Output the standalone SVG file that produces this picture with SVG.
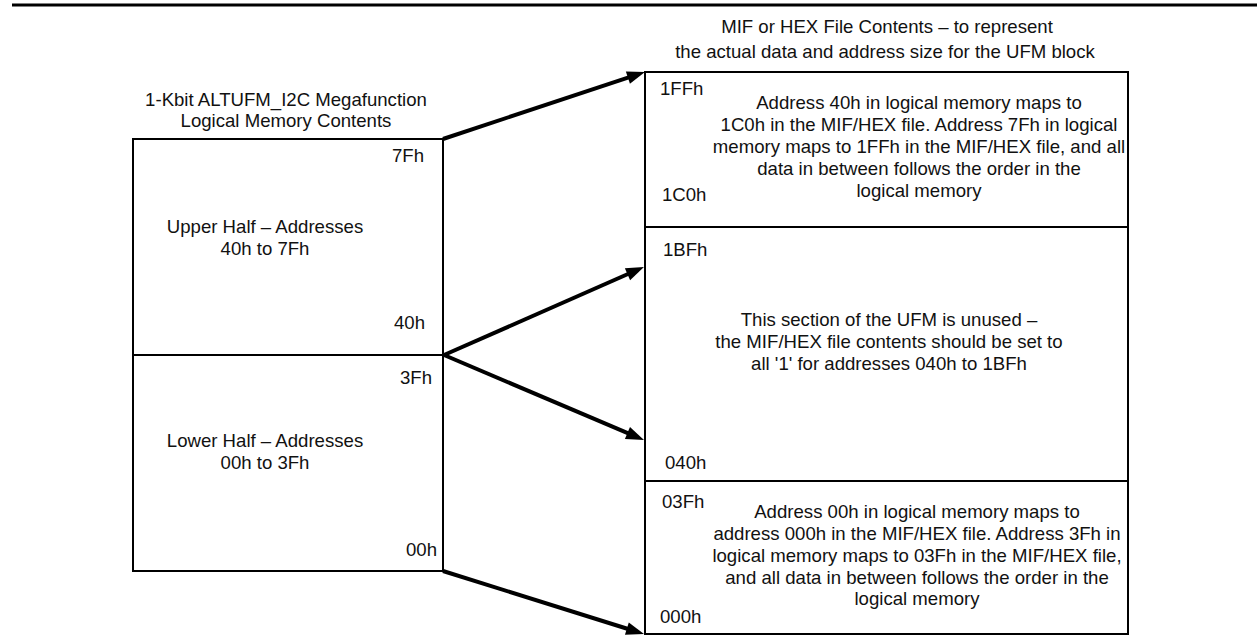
<svg xmlns="http://www.w3.org/2000/svg" width="1257" height="639" viewBox="0 0 1257 639">
<style>
text{font-family:"Liberation Sans",Arial,Helvetica,sans-serif;font-size:18.6px;fill:#111}
.c{text-anchor:middle}
.r{text-anchor:end}
.box{fill:none;stroke:#000;stroke-width:2}
.div{stroke:#000;stroke-width:2}
.arr{stroke:#000;stroke-width:4;fill:none;marker-end:url(#ah)}
</style>
<defs>
<marker id="ah" markerUnits="userSpaceOnUse" markerWidth="20" markerHeight="14" refX="8" refY="6.5" orient="auto" overflow="visible">
<path d="M0,0 L18,6.5 L0,13 z" fill="#000"/>
</marker>
</defs>
<rect x="0" y="0" width="1257" height="639" fill="#fff"/>
<line x1="12" y1="5" x2="1257" y2="5" stroke="#000" stroke-width="3"/>

<g id="logical-memory">
<text class="c" x="286" y="106">1-Kbit ALTUFM_I2C Megafunction</text>
<text class="c" x="286" y="127">Logical Memory Contents</text>
<rect class="box" x="133" y="139" width="310" height="432"/>
<line class="div" x1="133" y1="355" x2="443" y2="355"/>
</g>

<g id="upper-half">
<text class="r" x="424" y="162">7Fh</text>
<text class="c" x="265" y="233">Upper Half – Addresses</text>
<text class="c" x="265" y="255">40h to 7Fh</text>
<text class="r" x="425" y="329">40h</text>
</g>

<g id="lower-half">
<text class="r" x="432" y="384">3Fh</text>
<text class="c" x="265" y="447">Lower Half – Addresses</text>
<text class="c" x="265" y="469">00h to 3Fh</text>
<text class="r" x="437" y="556">00h</text>
</g>

<g id="mif-hex">
<text class="c" x="887" y="33">MIF or HEX File Contents – to represent</text>
<text class="c" x="885" y="58">the actual data and address size for the UFM block</text>
<rect class="box" x="645" y="72" width="483" height="562"/>
<line class="div" x1="645" y1="227" x2="1128" y2="227"/>
<line class="div" x1="645" y1="481" x2="1128" y2="481"/>
</g>

<g id="mif-upper">
<text x="660" y="95">1FFh</text>
<text x="662" y="201">1C0h</text>
<text class="c" x="919" y="109">Address 40h in logical memory maps to</text>
<text class="c" x="919" y="131">1C0h in the MIF/HEX file. Address 7Fh in logical</text>
<text class="c" x="919" y="153">memory maps to 1FFh in the MIF/HEX file, and all</text>
<text class="c" x="919" y="175">data in between follows the order in the</text>
<text class="c" x="919" y="197">logical memory</text>
</g>

<g id="mif-unused">
<text x="663" y="256">1BFh</text>
<text x="665" y="469">040h</text>
<text class="c" x="889" y="326">This section of the UFM is unused –</text>
<text class="c" x="889" y="348">the MIF/HEX file contents should be set to</text>
<text class="c" x="889" y="370">all '1' for addresses 040h to 1BFh</text>
</g>

<g id="mif-lower">
<text x="662" y="508">03Fh</text>
<text x="660" y="623">000h</text>
<text class="c" x="917" y="518">Address 00h in logical memory maps to</text>
<text class="c" x="917" y="540">address 000h in the MIF/HEX file. Address 3Fh in</text>
<text class="c" x="917" y="562">logical memory maps to 03Fh in the MIF/HEX file,</text>
<text class="c" x="917" y="584">and all data in between follows the order in the</text>
<text class="c" x="917" y="605">logical memory</text>
</g>

<g id="connectors">
<line class="arr" x1="443" y1="139" x2="635.5" y2="75.1"/>
<line class="arr" x1="444" y1="355" x2="634.8" y2="271"/>
<line class="arr" x1="444" y1="355" x2="634.8" y2="436.1"/>
<line class="arr" x1="443" y1="571" x2="634.5" y2="631"/>
</g>
</svg>
